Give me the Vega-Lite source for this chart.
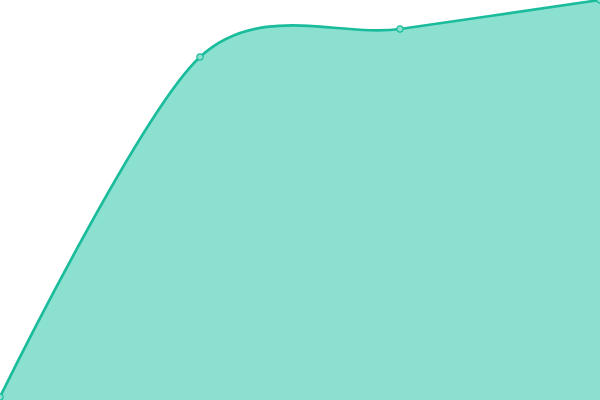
{
  "$schema": "https://vega.github.io/schema/vega-lite/v6.json",
  "width": 600,
  "height": 400,
  "autosize": "none",
  "padding": 0,
  "background": "#ffffff",
  "config": {"view": {"stroke": null}},
  "data": {
    "values": [
      {"step": 0, "value": 0.75},
      {"step": 1, "value": 85.75},
      {"step": 2, "value": 92.75},
      {"step": 3, "value": 100}
    ]
  },
  "encoding": {
    "x": {"field": "step", "type": "quantitative", "scale": {"domain": [0, 3], "nice": false, "zero": false}, "axis": null},
    "y": {"field": "value", "type": "quantitative", "scale": {"domain": [0, 100], "nice": false}, "axis": null}
  },
  "layer": [
    {
      "mark": {"type": "area", "interpolate": "cardinal", "tension": 0.1, "color": "#8be0d0", "opacity": 1}
    },
    {
      "mark": {"type": "line", "interpolate": "cardinal", "tension": 0.1, "color": "#1abc9c", "strokeWidth": 2.7}
    },
    {
      "mark": {"type": "point", "filled": true, "fill": "#8be0d0", "stroke": "#1abc9c", "strokeWidth": 1.2, "size": 40, "opacity": 1}
    }
  ]
}
